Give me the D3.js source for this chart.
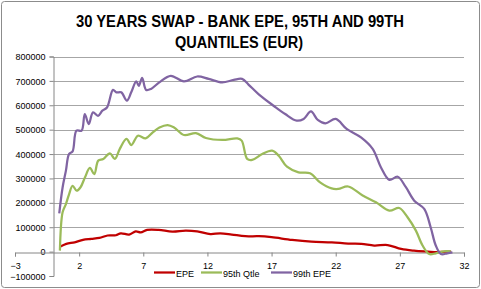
<!DOCTYPE html>
<html lang="en">
<head>
    <meta charset="UTF-8">
    <script src="https://d3js.org/d3.v7.min.js" charset="utf-8"></script>
    <title>30 Years Swap - Bank EPE</title>
    <style>
        body { margin: 0; background: white; }
        svg { display: block; font-family: "Liberation Sans", Arial, sans-serif; }
    </style>
</head>
<body>
<div class="chart"></div>

<script>
    const width = 481;
    const height = 289;

    // series: time (years) and exposure (EUR)
    const epeT = [0.5, 1.0, 1.65, 2.3, 2.94, 3.58, 4.22, 4.86, 5.25, 5.9, 6.41, 6.8, 7.3, 8.2, 9.27, 10.3, 11.2, 12.23, 13.0, 13.9, 14.95, 16.0, 17.0, 18.6, 20.1, 21.7, 22.97, 24.0, 25.0, 26.05, 27.1, 28.1, 29.2, 29.9, 30.4, 31.0];
    const epe = [20000, 32000, 38000, 48000, 52000, 56000, 66000, 67000, 75000, 70000, 83000, 79000, 89000, 89000, 82000, 86000, 83000, 72000, 75000, 70000, 63000, 63000, 59000, 48000, 41000, 38000, 33000, 32000, 25000, 27000, 11000, 4000, 0, -2000, -1000, 0];

    const q95T = [0.5, 0.71, 0.97, 1.22, 1.49, 1.8, 2.11, 2.45, 2.84, 3.18, 3.49, 3.88, 4.4, 4.78, 5.17, 5.69, 6.07, 6.58, 7.18, 7.74, 8.26, 8.9, 9.4, 10.18, 11.1, 11.88, 13.17, 14.33, 14.67, 15.1, 15.49, 16.27, 17.04, 17.56, 18.2, 19.1, 20.0, 20.78, 21.68, 22.2, 22.97, 24.1, 25.14, 26.18, 26.95, 27.6, 28.25, 28.77, 29.29, 29.8, 30.45, 30.97];
    const q95 = [4000, 161000, 195000, 236000, 270000, 250000, 264000, 304000, 343000, 318000, 373000, 380000, 403000, 380000, 421000, 462000, 437000, 475000, 464000, 489000, 509000, 519000, 509000, 478000, 486000, 466000, 458000, 464000, 455000, 380000, 376000, 400000, 414000, 393000, 348000, 325000, 321000, 284000, 259000, 257000, 267000, 230000, 202000, 168000, 179000, 141000, 86000, 25000, -10000, -7000, 1000, 1000];

    const q99T = [0.45, 0.71, 0.97, 1.21, 1.49, 1.79, 2.19, 2.44, 2.75, 3.08, 3.47, 3.81, 4.17, 4.64, 4.9, 5.28, 5.72, 6.06, 6.45, 6.65, 6.91, 7.22, 7.6, 8.25, 9.14, 10.17, 11.2, 12.1, 13.14, 14.05, 14.7, 15.2, 16.0, 17.16, 18.06, 18.96, 19.5, 20.07, 20.6, 21.2, 22.0, 22.85, 23.97, 24.88, 25.53, 26.18, 26.83, 27.47, 28.12, 28.9, 29.4, 29.8, 30.2, 30.7, 31.1];
    const q99 = [157000, 263000, 332000, 400000, 411000, 496000, 496000, 564000, 523000, 571000, 557000, 578000, 591000, 663000, 653000, 653000, 619000, 653000, 698000, 680000, 712000, 663000, 667000, 694000, 721000, 698000, 718000, 708000, 694000, 704000, 708000, 685000, 645000, 598000, 564000, 537000, 544000, 575000, 540000, 526000, 544000, 503000, 468000, 421000, 345000, 294000, 307000, 264000, 209000, 175000, 100000, 25000, -10000, -7000, -3000];

    const seriesNames = ["EPE", "95th Qtle", "99th EPE"];
    const seriesColors = ["#c00000", "#9bbb59", "#8064a2"];
    const xTicks = [-3, 2, 7, 12, 17, 22, 27, 32];
    const yTicks = [-100000, 0, 100000, 200000, 300000, 400000, 500000, 600000, 700000, 800000];
    const titleLines = ["30 YEARS SWAP - BANK EPE, 95TH AND 99TH", "QUANTILES (EUR)"];

    const svg = d3.select(".chart").append("svg")
        .attr("width", width)
        .attr("height", height);

    // outer chart border
    svg.append("rect")
        .attr("x", 1.5).attr("y", 1.5)
        .attr("width", width - 3).attr("height", height - 3)
        .attr("rx", 3)
        .attr("fill", "white")
        .attr("stroke", "#8c8c8c");

    // title
    svg.append("text")
        .attr("x", 240).attr("y", 26.5)
        .attr("text-anchor", "middle")
        .attr("font-size", 16).attr("font-weight", "bold")
        .attr("textLength", 328).attr("lengthAdjust", "spacingAndGlyphs")
        .text(titleLines[0]);
    svg.append("text")
        .attr("x", 239).attr("y", 48)
        .attr("text-anchor", "middle")
        .attr("font-size", 16).attr("font-weight", "bold")
        .attr("textLength", 128).attr("lengthAdjust", "spacingAndGlyphs")
        .text(titleLines[1]);

    // scales
    const x = d3.scaleLinear().domain([-3, 32]).range([15, 464]);
    const y = d3.scaleLinear().domain([-100000, 800000]).range([276, 56.5]);

    // gridlines
    svg.append("g")
        .selectAll("line")
        .data(yTicks.filter(d => d > 0))
        .enter()
        .append("line")
        .attr("x1", x(0)).attr("x2", x(32))
        .attr("y1", d => Math.round(y(d)) + 0.5)
        .attr("y2", d => Math.round(y(d)) + 0.5)
        .attr("stroke", "#a6a6a6");

    // y axis (crosses at x = 0)
    const yAxis = svg.append("g")
        .attr("transform", `translate(${Math.round(x(0)) + 0.5},0)`)
        .call(d3.axisLeft(y).tickValues(yTicks).tickFormat(d3.format("d")).tickSize(4).tickPadding(4));

    // x axis (crosses at y = 0)
    const xAxis = svg.append("g")
        .attr("transform", `translate(0,${Math.round(y(0)) + 0.5})`)
        .call(d3.axisBottom(x).tickValues(xTicks).tickSize(4).tickPadding(6));

    [xAxis, yAxis].forEach(g => {
        g.select(".domain").attr("stroke", "#868686");
        g.selectAll(".tick line").attr("stroke", "#868686");
        g.selectAll(".tick text")
            .attr("font-family", "Liberation Sans, Arial, sans-serif")
            .attr("font-size", 9)
            .attr("fill", "#000");
    });
    yAxis.selectAll(".tick text").attr("dy", "0.35em");

    // lines
    const line = d3.line()
        .x(d => x(d[0]))
        .y(d => y(d[1]))
        .curve(d3.curveCatmullRom.alpha(0.5));

    const seriesData = [
        d3.zip(epeT, epe),
        d3.zip(q95T, q95),
        d3.zip(q99T, q99)
    ];

    svg.append("g")
        .selectAll("path")
        .data(seriesData)
        .enter()
        .append("path")
        .attr("d", d => line(d))
        .attr("fill", "none")
        .attr("stroke", (d, i) => seriesColors[i])
        .attr("stroke-width", 2.25)
        .attr("stroke-linejoin", "round");

    // legend
    const legendX = [154, 201, 271];
    const legend = svg.append("g");
    seriesNames.forEach((name, i) => {
        legend.append("line")
            .attr("x1", legendX[i]).attr("x2", legendX[i] + 21)
            .attr("y1", 272.5).attr("y2", 272.5)
            .attr("stroke", seriesColors[i])
            .attr("stroke-width", 2.25);
        legend.append("text")
            .attr("x", legendX[i] + 22).attr("y", 276.5)
            .attr("font-size", 9)
            .text(name);
    });
</script>
</body>
</html>
